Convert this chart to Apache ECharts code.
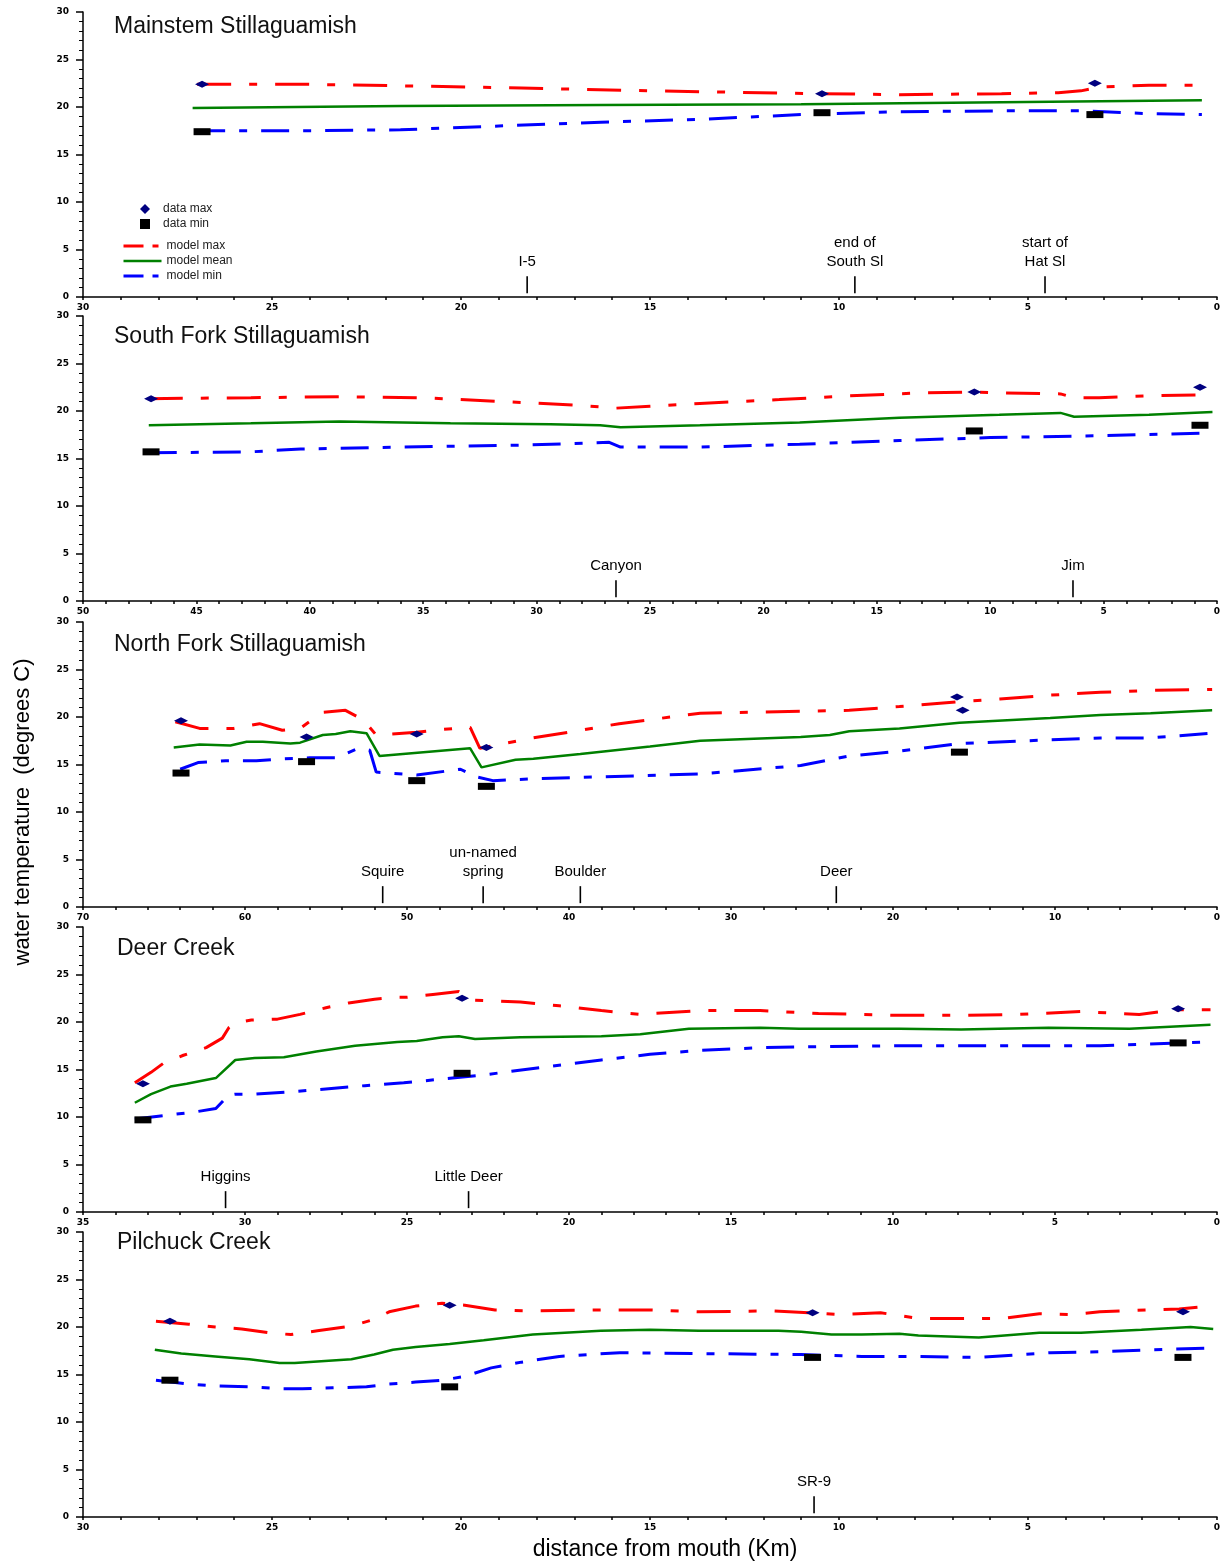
<!DOCTYPE html>
<html>
<head>
<meta charset="utf-8">
<script src="https://cdn.jsdelivr.net/npm/echarts@6/dist/echarts.min.js"></script>
<style>
  html, body { margin: 0; padding: 0; background: #fff; }
  #chart { width: 1225px; height: 1564px; }
</style>
</head>
<body>
<div id="chart"></div>
<script>
// ---- data: [km from mouth, degrees C] ----
// Mainstem Stillaguamish
const msMax = [[26.98,22.4],[24.3,22.4],[21.1,22.2],[18.4,22.0],[15.0,21.7],[10.5,21.4],[8.4,21.3],[5.7,21.4],[4.2,21.5],[3.6,21.7],[3.1,22.1],[1.8,22.3],[0.4,22.3]];
const msMean = [[27.1,19.9],[21.6,20.1],[16.3,20.2],[11.0,20.3],[5.7,20.5],[3.1,20.6],[0.4,20.7]];
const msMin = [[26.98,17.5],[24.3,17.5],[21.6,17.6],[19.0,18.0],[16.3,18.4],[13.7,18.7],[11.0,19.2],[8.4,19.5],[5.7,19.6],[3.6,19.6],[1.8,19.3],[0.4,19.2]];
const msObsMax = [[26.85,22.4],[10.45,21.4],[3.23,22.5]];
const msObsMin = [[26.85,17.4],[10.45,19.4],[3.23,19.2]];
const msMarkNames = ['I-5', 'end of\nSouth Sl', 'start of\nHat Sl'];
const msMarkKm = [18.25, 9.58, 4.55];

// South Fork Stillaguamish
const sfMax = [[47.1,21.3],[42.6,21.4],[38.7,21.5],[35.1,21.4],[30.7,20.9],[28.1,20.6],[26.5,20.3],[25.0,20.5],[22.8,20.8],[19.3,21.2],[16.2,21.6],[13.1,21.9],[10.9,22.0],[9.6,21.9],[6.9,21.8],[6.3,21.4],[5.2,21.4],[3.0,21.6],[0.3,21.7]];
const sfMean = [[47.1,18.5],[42.6,18.7],[38.7,18.9],[33.8,18.7],[29.4,18.6],[27.2,18.5],[26.3,18.3],[22.8,18.5],[18.4,18.8],[14.0,19.3],[9.6,19.6],[6.9,19.8],[6.3,19.4],[3.0,19.6],[0.2,19.9]];
const sfMin = [[47.1,15.6],[42.6,15.7],[40.4,16.0],[36.0,16.2],[30.7,16.4],[26.8,16.7],[26.3,16.2],[22.8,16.2],[18.4,16.5],[14.0,16.9],[10.0,17.2],[5.2,17.4],[0.2,17.7]];
const sfObsMax = [[47.0,21.3],[10.7,22.0],[0.75,22.5]];
const sfObsMin = [[47.0,15.7],[10.7,17.9],[0.75,18.5]];
const sfMarkNames = ['Canyon', 'Jim'];
const sfMarkKm = [26.5, 6.35];

// North Fork Stillaguamish
const nfMax = [[64.3,19.5],[62.8,18.8],[60.7,18.8],[59.1,19.3],[57.7,18.6],[56.6,18.8],[55.2,20.5],[53.8,20.7],[52.7,19.7],[51.9,18.1],[49.4,18.4],[47.8,18.7],[46.1,18.9],[45.5,16.7],[42.2,17.8],[39.3,18.6],[36.9,19.3],[31.9,20.4],[25.7,20.6],[22.7,20.7],[19.6,21.1],[15.9,21.6],[13.4,21.9],[10.3,22.3],[7.2,22.6],[4.1,22.8],[0.3,22.9]];
const nfMean = [[64.4,16.8],[62.8,17.1],[60.9,17.0],[59.9,17.4],[58.9,17.4],[57.2,17.2],[56.6,17.3],[55.2,18.1],[54.4,18.2],[53.5,18.5],[52.5,18.3],[51.7,15.9],[46.1,16.7],[45.4,14.7],[43.3,15.5],[42.2,15.6],[39.3,16.1],[35.0,16.9],[31.9,17.5],[25.7,17.9],[23.9,18.1],[22.7,18.5],[19.6,18.8],[15.9,19.4],[10.3,19.9],[7.2,20.2],[4.1,20.4],[0.3,20.7]];
const nfMin = [[64.0,14.5],[62.9,15.2],[61.2,15.4],[59.3,15.4],[57.7,15.6],[56.0,15.7],[54.4,15.7],[53.0,16.7],[52.3,16.5],[51.9,14.2],[49.4,13.9],[46.7,14.5],[45.7,13.7],[44.7,13.3],[42.2,13.5],[38.1,13.7],[31.9,14.0],[25.7,14.9],[23.9,15.5],[22.7,15.9],[19.6,16.4],[15.9,17.2],[10.3,17.6],[7.2,17.8],[4.1,17.8],[0.3,18.3]];
const nfObsMax = [[63.95,19.6],[56.2,17.9],[49.4,18.2],[45.1,16.8],[16.05,22.1],[15.7,20.7]];
const nfObsMin = [[63.95,14.1],[56.2,15.3],[49.4,13.3],[45.1,12.7],[15.9,16.3]];
const nfMarkNames = ['Squire', 'un-named\nspring', 'Boulder', 'Deer'];
const nfMarkKm = [51.5, 45.3, 39.3, 23.5];

// Deer Creek
const dcMax = [[33.4,13.6],[32.9,14.7],[32.5,15.7],[31.9,16.5],[31.2,17.3],[30.7,18.3],[30.5,19.4],[30.3,19.9],[29.8,20.2],[29.0,20.3],[28.3,20.8],[27.5,21.5],[26.8,22.0],[26.0,22.4],[25.3,22.6],[25.0,22.6],[24.2,22.9],[23.4,23.2],[22.9,22.3],[21.5,22.1],[20.3,21.7],[19.0,21.2],[17.8,20.8],[16.0,21.2],[14.1,21.2],[12.3,20.9],[9.8,20.7],[7.9,20.7],[6.1,20.8],[4.2,21.1],[2.4,20.8],[1.3,21.3],[0.2,21.3]];
const dcMean = [[33.4,11.5],[32.9,12.4],[32.3,13.2],[31.8,13.5],[30.9,14.1],[30.3,16.0],[29.7,16.2],[28.8,16.3],[27.8,16.9],[26.6,17.5],[25.3,17.9],[24.7,18.0],[23.9,18.4],[23.4,18.5],[22.9,18.2],[21.5,18.4],[19.0,18.5],[17.8,18.7],[16.3,19.3],[14.1,19.4],[12.9,19.3],[9.8,19.3],[7.9,19.2],[5.2,19.4],[2.7,19.3],[0.2,19.7]];
const dcMin = [[33.4,9.8],[32.4,10.2],[31.6,10.5],[30.9,10.9],[30.5,12.3],[30.3,12.4],[29.7,12.4],[28.4,12.7],[26.3,13.3],[25.1,13.6],[23.6,14.1],[22.7,14.4],[20.9,15.2],[19.0,16.0],[17.5,16.6],[16.0,17.0],[14.1,17.3],[12.3,17.4],[9.8,17.5],[6.7,17.5],[3.6,17.5],[0.2,17.9]];
const dcObsMax = [[33.15,13.5],[23.3,22.5],[1.2,21.4]];
const dcObsMin = [[33.15,9.7],[23.3,14.6],[1.2,17.8]];
const dcMarkNames = ['Higgins', 'Little Deer'];
const dcMarkKm = [30.6, 23.1];

// Pilchuck Creek
const pcMax = [[28.07,20.6],[27.2,20.3],[26.5,20.0],[25.8,19.8],[25.1,19.4],[24.5,19.2],[23.8,19.6],[22.9,20.1],[22.3,20.8],[21.9,21.6],[21.2,22.2],[20.5,22.5],[19.9,22.3],[19.1,21.8],[18.2,21.7],[16.3,21.8],[15.0,21.8],[13.7,21.6],[11.8,21.7],[10.8,21.5],[10.0,21.3],[8.9,21.5],[7.9,20.9],[6.8,20.9],[5.7,20.9],[4.7,21.4],[3.9,21.3],[3.1,21.6],[1.8,21.8],[1.0,21.9],[0.45,22.1],[0.1,22.0]];
const pcMean = [[28.1,17.6],[27.4,17.2],[26.5,16.9],[25.6,16.6],[24.8,16.2],[24.4,16.2],[23.7,16.4],[22.9,16.6],[22.3,17.1],[21.8,17.6],[21.2,17.9],[20.3,18.2],[19.4,18.6],[18.1,19.2],[16.3,19.6],[15.0,19.7],[13.7,19.6],[11.6,19.6],[11.0,19.5],[10.2,19.2],[9.4,19.2],[8.4,19.3],[7.9,19.1],[6.3,18.9],[4.7,19.4],[3.6,19.4],[2.0,19.7],[0.7,20.0],[0.1,19.8]];
const pcMin = [[28.07,14.4],[27.2,14.0],[26.5,13.8],[25.6,13.7],[24.7,13.5],[24.2,13.5],[23.4,13.6],[22.5,13.7],[21.9,14.0],[21.2,14.2],[20.5,14.4],[19.9,14.8],[19.2,15.7],[18.4,16.3],[17.4,16.9],[15.8,17.3],[13.7,17.2],[11.0,17.1],[9.4,16.9],[7.9,16.9],[6.3,16.8],[4.4,17.3],[3.1,17.4],[1.8,17.6],[0.1,17.8]];
const pcObsMax = [[27.7,20.6],[20.3,22.3],[10.7,21.5],[0.9,21.6]];
const pcObsMin = [[27.7,14.4],[20.3,13.7],[10.7,16.8],[0.9,16.8]];
const pcMarkNames = ['SR-9'];
const pcMarkKm = [10.66];

const panelTitles = ['Mainstem Stillaguamish', 'South Fork Stillaguamish', 'North Fork Stillaguamish', 'Deer Creek', 'Pilchuck Creek'];
const xMaxes = [30, 50, 70, 35, 30];
const xIntervals = [5, 5, 10, 5, 5];
const yTicks = [0, 30, 5];

// ---- layout ----
const gridTops = [12, 316, 622, 927, 1232];
const gridHeight = 285;
const titleLefts = [114, 114, 114, 117, 117];
const titleTops = [15, 325, 633, 937, 1231];
const FONT = 'Liberation Sans, Arial, sans-serif';
const RED_DASH = [34, 18, 8, 18];
const BLUE_DASH = [28, 14, 8, 14];

const panels = [
  { max: msMax, mean: msMean, min: msMin, obsMax: msObsMax, obsMin: msObsMin, names: msMarkNames, km: msMarkKm },
  { max: sfMax, mean: sfMean, min: sfMin, obsMax: sfObsMax, obsMin: sfObsMin, names: sfMarkNames, km: sfMarkKm },
  { max: nfMax, mean: nfMean, min: nfMin, obsMax: nfObsMax, obsMin: nfObsMin, names: nfMarkNames, km: nfMarkKm },
  { max: dcMax, mean: dcMean, min: dcMin, obsMax: dcObsMax, obsMin: dcObsMin, names: dcMarkNames, km: dcMarkKm },
  { max: pcMax, mean: pcMean, min: pcMin, obsMax: pcObsMax, obsMin: pcObsMin, names: pcMarkNames, km: pcMarkKm },
];

const chart = echarts.init(document.getElementById('chart'), null, { renderer: 'canvas' });

const grid = [], xAxis = [], yAxis = [], series = [], title = [];
const tickFont = { color: '#000', fontFamily: 'DejaVu Sans', fontWeight: 'bold', fontSize: 9 };

panels.forEach((p, i) => {
  grid.push({ left: 83, right: 8, top: gridTops[i], height: gridHeight });
  title.push({
    text: panelTitles[i], left: titleLefts[i], top: titleTops[i], padding: 0,
    textStyle: { fontFamily: FONT, fontSize: 23, fontWeight: 'normal', color: '#111' },
  });
  xAxis.push({
    type: 'value', gridIndex: i, inverse: true, min: 0, max: xMaxes[i], interval: xIntervals[i],
    position: 'bottom',
    axisLine: { onZero: false, lineStyle: { color: '#000', width: 1.5 } },
    axisTick: { show: true, length: 3, lineStyle: { color: '#000', width: 1.5 } },
    minorTick: { show: true, splitNumber: 5, length: 3, lineStyle: { color: '#000', width: 1.5 } },
    axisLabel: Object.assign({ margin: 6 }, tickFont),
    splitLine: { show: false },
  });
  yAxis.push({
    type: 'value', gridIndex: i, min: yTicks[0], max: yTicks[1], interval: yTicks[2],
    position: 'left',
    axisLine: { show: true, onZero: false, lineStyle: { color: '#000', width: 1.5 } },
    axisTick: { show: true, length: 7, lineStyle: { color: '#000', width: 1.5 } },
    minorTick: { show: true, splitNumber: 5, length: 4, lineStyle: { color: '#000', width: 1 } },
    axisLabel: Object.assign({ margin: 14 }, tickFont),
    splitLine: { show: false },
  });

  series.push({
    name: 'model max', type: 'line', xAxisIndex: i, yAxisIndex: i, data: p.max,
    symbol: 'none', z: 2, lineStyle: { color: '#ff0000', width: 3, type: RED_DASH },
    itemStyle: { color: '#ff0000' },
  });
  series.push({
    name: 'model mean', type: 'line', xAxisIndex: i, yAxisIndex: i, data: p.mean,
    symbol: 'none', z: 2, lineStyle: { color: '#008000', width: 2.5 },
    itemStyle: { color: '#008000' },
  });
  series.push({
    name: 'model min', type: 'line', xAxisIndex: i, yAxisIndex: i, data: p.min,
    symbol: 'none', z: 2, lineStyle: { color: '#0000ff', width: 3, type: BLUE_DASH },
    itemStyle: { color: '#0000ff' },
  });
  series.push({
    name: 'data max', type: 'scatter', xAxisIndex: i, yAxisIndex: i, data: p.obsMax,
    symbol: 'diamond', symbolSize: [14, 7], z: 4, itemStyle: { color: '#000080', opacity: 1 },
  });
  series.push({
    name: 'data min', type: 'scatter', xAxisIndex: i, yAxisIndex: i, data: p.obsMin,
    symbol: 'rect', symbolSize: [17, 7], z: 4, itemStyle: { color: '#000', opacity: 1 },
  });
  // landmarks: short vertical marker plus label
  series.push({
    name: 'landmark', type: 'scatter', xAxisIndex: i, yAxisIndex: i, silent: true,
    symbol: 'rect', symbolSize: [1.6, 17], z: 3, itemStyle: { color: '#000', opacity: 1 },
    data: p.km.map((k, j) => ({ name: p.names[j], value: [k, 1.3] })),
    label: {
      show: true, position: 'top', distance: 5, formatter: '{b}', opacity: 1,
      fontFamily: FONT, fontSize: 15, lineHeight: 19, color: '#000', align: 'center',
    },
  });
});

const option = {
  animation: false,
  backgroundColor: '#fff',
  title,
  grid,
  xAxis,
  yAxis,
  series,
  legend: [
    {
      orient: 'vertical', left: 140, top: 203, padding: 0, itemGap: 3,
      itemWidth: 10, itemHeight: 10, selectedMode: false,
      data: ['data max', 'data min'],
      textStyle: { fontFamily: FONT, fontSize: 12, color: '#222', lineHeight: 10, padding: [0, 0, 0, 8] },
    },
    {
      orient: 'vertical', left: 122, top: 240, padding: 0, itemGap: 3,
      itemWidth: 38, itemHeight: 10, selectedMode: false,
      itemStyle: { opacity: 0 },
      data: [
        { name: 'model max', itemStyle: { opacity: 0 }, lineStyle: { color: '#ff0000', width: 3, type: [20, 9, 6, 20] } },
        { name: 'model mean', itemStyle: { opacity: 0 }, lineStyle: { color: '#008000', width: 2.5, type: 'solid' } },
        { name: 'model min', itemStyle: { opacity: 0 }, lineStyle: { color: '#0000ff', width: 3, type: [20, 9, 6, 20] } },
      ],
      textStyle: { fontFamily: FONT, fontSize: 12, color: '#222', lineHeight: 10 },
    },
  ],
  graphic: [
    {
      type: 'text', x: 23, y: 812, rotation: Math.PI / 2,
      style: { text: 'water temperature  (degrees C)', font: '22px ' + FONT, fill: '#000', textAlign: 'center', textVerticalAlign: 'middle' },
    },
    {
      type: 'text', x: 665, y: 1550,
      style: { text: 'distance from mouth (Km)', font: '23px ' + FONT, fill: '#000', textAlign: 'center', textVerticalAlign: 'middle' },
    },
  ],
};

chart.setOption(option);
</script>
</body>
</html>
